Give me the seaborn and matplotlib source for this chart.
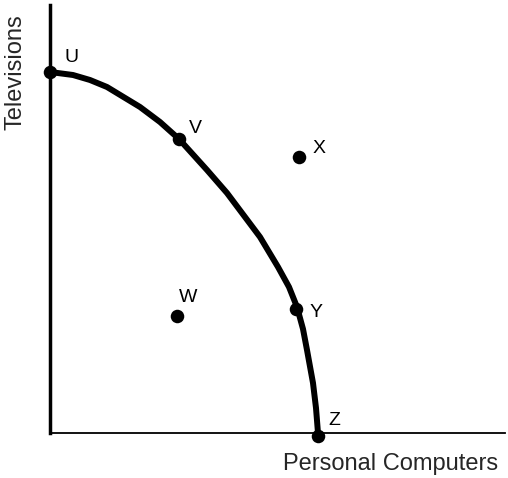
import matplotlib
matplotlib.use('Agg')
import matplotlib.pyplot as plt
import pandas as pd

import seaborn as sns

# production possibilities frontier
curve_x = [0, 23, 40, 57, 90, 110, 129, 157, 177, 195, 210, 228, 239, 247, 253, 257, 263, 266, 268]
curve_y = [361, 358, 353, 346, 326, 311, 294, 263, 240, 216, 196, 166, 146, 126, 104, 83, 50, 25, 0]

point_names = ['U', 'V', 'X', 'W', 'Y', 'Z']
point_x = [0, 129, 249, 127, 246, 268]
point_y = [361, 294, 276, 117, 124, -3]

sns.set_style('white')
plt.rcParams['font.family'] = ['Liberation Sans', 'DejaVu Sans']

fig = plt.figure(figsize=(5.08, 4.78), dpi=100)
ax = fig.add_axes([50 / 508, 45 / 478, 455 / 508, 428 / 478])

curve = pd.DataFrame({'pc': curve_x, 'tv': curve_y})
pts = pd.DataFrame({'pc': point_x, 'tv': point_y, 'name': point_names})

sns.lineplot(x='pc', y='tv', data=curve, sort=False, color='black', lw=4.3,
             solid_joinstyle='round', ax=ax)
sns.scatterplot(x='pc', y='tv', data=pts, color='black', s=95, edgecolor='black',
                linewidth=0, clip_on=False, zorder=5, ax=ax)

# label placement next to each dot (pixels)
offsets = {'U': (15, 10), 'V': (10, 6), 'X': (14, 4), 'W': (2, 14), 'Y': (14, -8), 'Z': (10, 11)}
for name, x, y in zip(point_names, point_x, point_y):
    ax.annotate(name, (x, y), xytext=offsets[name], textcoords='offset pixels',
                ha='left', va='baseline', fontsize=14, color='black',
                annotation_clip=False)

ax.set_xlim(0, 455)
ax.set_ylim(0, 428)
ax.set_xticks([])
ax.set_yticks([])
ax.set_xlabel('')
ax.set_ylabel('')
sns.despine(ax=ax)
ax.spines['left'].set_linewidth(2.5)
ax.spines['bottom'].set_linewidth(1.3)
ax.spines['left'].set_color('black')
ax.spines['bottom'].set_color('black')

fig.text(16 / 508, 1 - 72 / 478, 'Televisions', rotation=90, ha='center', va='center', fontsize=17)
fig.text(391 / 508, 1 - 464 / 478, 'Personal Computers', ha='center', va='center', fontsize=17)

fig.savefig('out.png', dpi=100)
